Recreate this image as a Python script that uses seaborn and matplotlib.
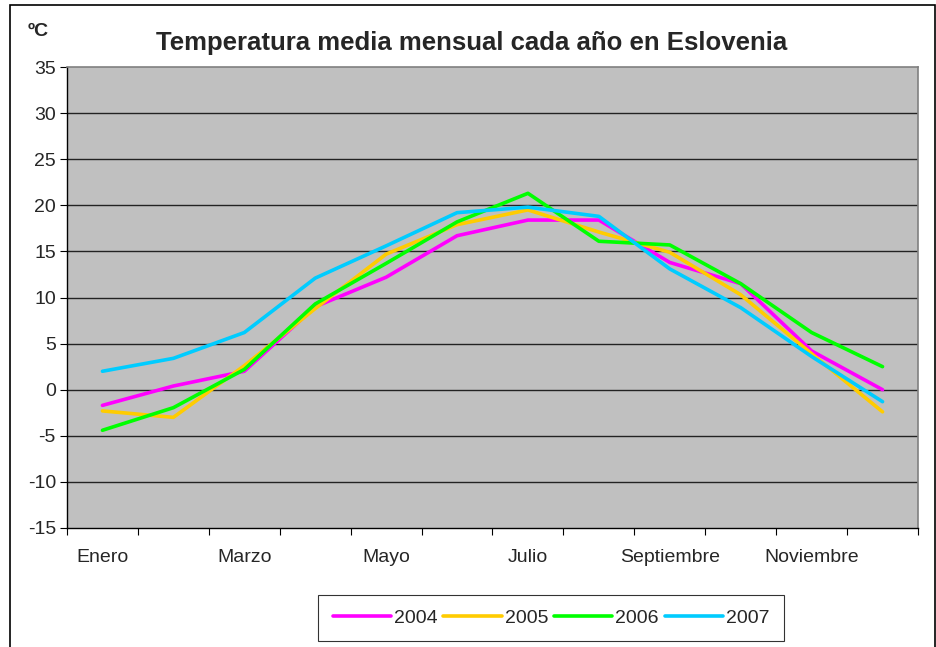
import matplotlib
matplotlib.use("Agg")
import matplotlib.pyplot as plt
import matplotlib.patches as mpatches
import numpy as np
import pandas as pd
import seaborn as sns

# ---------------------------------------------------------------
# Data
# ---------------------------------------------------------------
months = ["Enero", "Febrero", "Marzo", "Abril", "Mayo", "Junio",
          "Julio", "Agosto", "Septiembre", "Octubre", "Noviembre", "Diciembre"]
t2004 = [-1.7, 0.4, 2.0, 9.0, 12.2, 16.7, 18.4, 18.4, 13.8, 11.5, 4.2, 0.0]
t2005 = [-2.3, -3.0, 2.6, 8.8, 14.7, 17.9, 19.5, 17.1, 14.9, 10.3, 3.9, -2.4]
t2006 = [-4.4, -1.95, 2.2, 9.3, 13.7, 18.2, 21.3, 16.1, 15.7, 11.5, 6.2, 2.5]
t2007 = [2.0, 3.4, 6.2, 12.1, 15.6, 19.2, 19.8, 18.8, 13.1, 8.9, 3.6, -1.3]
years = ["2004", "2005", "2006", "2007"]
yticks = list(range(-15, 40, 5))

colors = {"2004": "#FF00FF", "2005": "#FFCC00", "2006": "#00FF00", "2007": "#00CCFF"}

df = pd.DataFrame({
    "mes": np.tile(np.arange(len(months)), len(years)),
    "temp": t2004 + t2005 + t2006 + t2007,
    "anio": np.repeat(years, len(months)),
})

sns.set_style("white")
plt.rcParams["font.family"] = ["Liberation Sans", "DejaVu Sans"]

fig = plt.figure(figsize=(9.37, 6.47), dpi=100)
ax = fig.add_axes([67 / 937, 1 - 528 / 647, (918 - 67) / 937, (528 - 67) / 647])
ax.set_facecolor("#C0C0C0")

sns.lineplot(data=df, x="mes", y="temp", hue="anio", palette=colors,
             linewidth=2.6, ax=ax, legend=False, zorder=3)

ax.set_xlim(-0.5, len(months) - 0.5)
ax.set_ylim(-15, 35)

# y axis
ax.set_yticks(yticks)
ax.set_yticklabels([str(v) for v in yticks], fontsize=14)
for v in yticks[1:-1]:
    ax.axhline(v, color="#222222", linewidth=1.0, zorder=1)
ax.tick_params(axis="y", direction="out", length=5, width=0.8, color="black",
               pad=3, left=True)

# x axis: tick marks on boundaries, labels every other month
ax.set_xticks(np.arange(-0.5, len(months), 1.0))
ax.set_xticklabels([])
ax.set_xticks(np.arange(0, len(months), 2), minor=True)
ax.set_xticklabels(months[::2], minor=True, fontsize=14)
ax.tick_params(axis="x", which="major", direction="out", length=5, width=0.8,
               color="black", bottom=True)
ax.tick_params(axis="x", which="minor", length=0, pad=15)
ax.set_xlabel("")
ax.set_ylabel("")

for side in ["top", "right"]:
    ax.spines[side].set_color("#808080")
    ax.spines[side].set_linewidth(1.2)
for side in ["left", "bottom"]:
    ax.spines[side].set_color("black")
    ax.spines[side].set_linewidth(1.0)
    ax.spines[side].set_visible(True)

# titles
fig.text(472 / 937, 1 - 43 / 647, "Temperatura media mensual cada año en Eslovenia",
         ha="center", va="center", fontsize=18.5, fontweight="bold")
fig.text(38 / 937, 1 - 31 / 647, "ºC", ha="center", va="center",
         fontsize=14, fontweight="bold")

# legend
handles = [plt.Line2D([0], [0], color=colors[y], linewidth=2.6) for y in years]
leg = fig.legend(handles, years, loc="center", ncol=4,
                 bbox_to_anchor=(551 / 937, 1 - 618 / 647), frameon=True,
                 fancybox=False, edgecolor="black", fontsize=14,
                 handlelength=3.0, handletextpad=0.15, columnspacing=0.3,
                 borderpad=0.75)
leg.get_frame().set_linewidth(0.8)

# outer chart frame
fig.patches.append(mpatches.Rectangle((10 / 937, -0.01), (935 - 10) / 937, 1 - 5 / 647 + 0.01,
                                      transform=fig.transFigure, fill=False,
                                      edgecolor="black", linewidth=1.2))

fig.savefig("out.png", dpi=100)
